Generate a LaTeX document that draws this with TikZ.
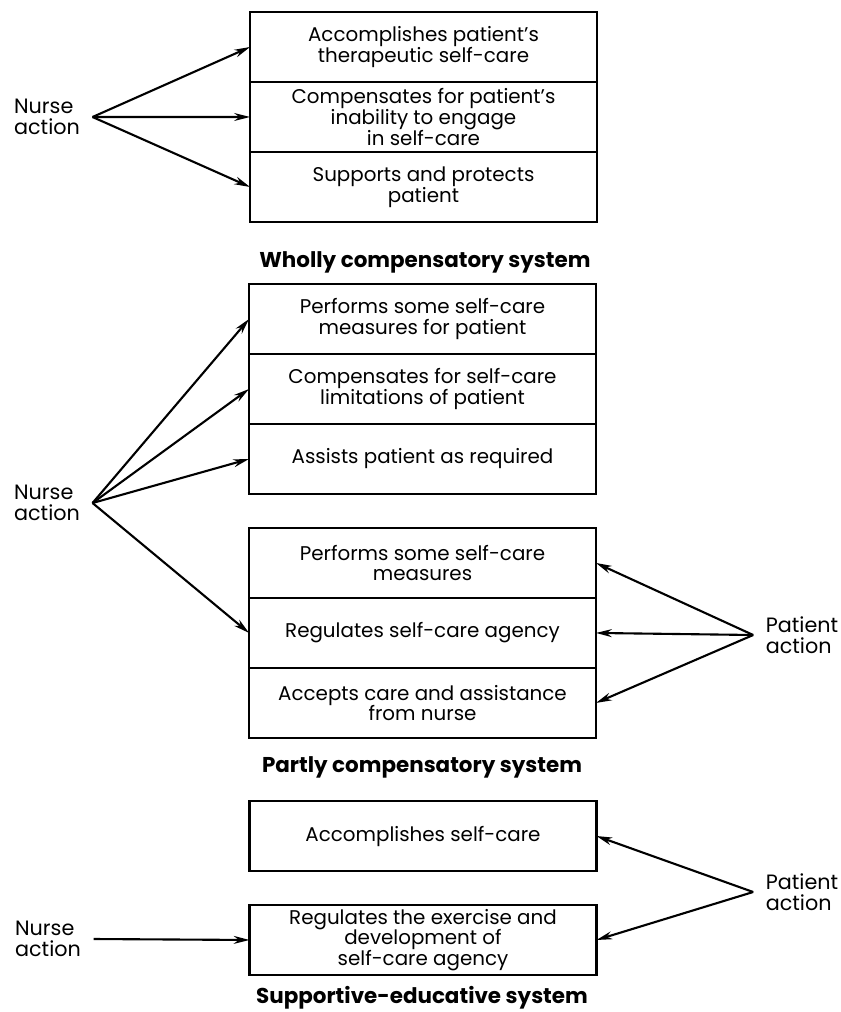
\documentclass[tikz,border=0pt]{standalone}
\usepackage{fontspec}
\setmainfont{Poppins}
\usetikzlibrary{arrows.meta,positioning}
\newcommand{\drawarrow}{\draw[line width=1.2pt,-{Stealth[length=9pt,width=4.5pt]}]}
\tikzset{
  care/.style={draw,line width=1.3pt,outer sep=0pt,inner ysep=1pt,minimum width=6.94cm,minimum height=1.4cm,
    align=center,font=\fontsize{11.3}{11.8}\selectfont},
  actor/.style={align=left,inner xsep=7pt,font=\fontsize{11.8}{12}\selectfont},
  system/.style={font=\bfseries\fontsize{12.2}{13}\selectfont}
}

\begin{document}
\begin{tikzpicture}[x=0.02cm,y=-0.02cm]
\useasboundingbox (0,0) rectangle (841,1012);
\node[care] (wc1) at (423.5,47) {Accomplishes patient's\\therapeutic self-care};
\node[care,below=0pt of wc1] (wc2) {Compensates for patient's\\inability to engage\\in self-care};
\node[care,below=0pt of wc2] (wc3) {Supports and protects\\patient};
\node[actor] (nurse1) at (47,117) {Nurse\\action};
\foreach \b in {wc1,wc2,wc3}{\drawarrow (nurse1.east) -- (\b.west);}
\node[system] (wcsys) at (425,262) {Wholly compensatory system};

\node[care] (pc1) at (422.5,319) {Performs some self-care\\measures for patient};
\node[care,below=0pt of pc1] (pc2) {Compensates for self-care\\limitations of patient};
\node[care,below=0pt of pc2] (pc3) {Assists patient as required};
\node[care,below=0.68cm of pc3] (pc4) {Performs some self-care\\measures};
\node[care,below=0pt of pc4] (pc5) {Regulates self-care agency};
\node[care,below=0pt of pc5] (pc6) {Accepts care and assistance\\from nurse};
\node[actor] (nurse2) at (47,503) {Nurse\\action};
\node[actor] (patient1) at (802,635) {Patient\\action};
\foreach \b in {pc1,pc2,pc3,pc5}{\drawarrow (nurse2.east) -- (\b.west);}
\foreach \b in {pc4,pc5,pc6}{\drawarrow (patient1.west) -- (\b.east);}
\node[system] (pcsys) at (422,767) {Partly compensatory system};

\node[care] (se1) at (423,836) {Accomplishes self-care};
\node[care,below=0.68cm of se1] (se2) {Regulates the exercise and\\development of\\self-care agency};
\node[actor] (nurse3) at (48,939) {Nurse\\action};
\node[actor] (patient2) at (802,892) {Patient\\action};
\drawarrow (nurse3.east) -- (se2.west);
\foreach \b in {se1,se2}{\drawarrow (patient2.west) -- (\b.east);}
\node[system] (sesys) at (422,998) {Supportive-educative system};
\end{tikzpicture}
\end{document}
